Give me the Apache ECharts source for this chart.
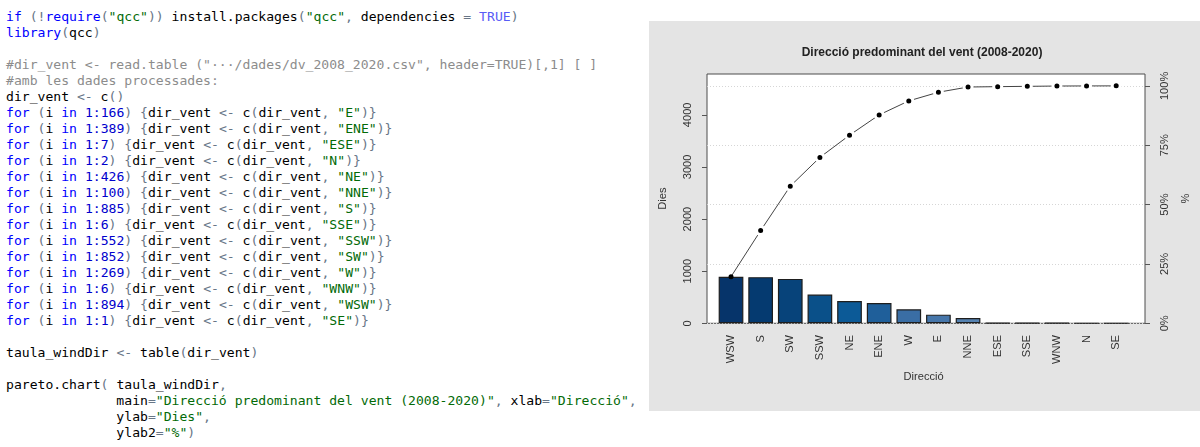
<!DOCTYPE html>
<html>
<head>
<meta charset="utf-8">
<script src="https://cdn.jsdelivr.net/npm/echarts@6/dist/echarts.min.js"></script>
<style>
  html, body { margin: 0; padding: 0; background: #fff; width: 1200px; height: 447px; overflow: hidden; }
  #code {
    position: absolute; left: 6px; top: 9px; margin: 0;
    font-family: "DejaVu Sans Mono", "Liberation Mono", monospace;
    font-size: 13.1px; line-height: 16px; color: #000; white-space: pre; z-index: 1;
  }
  .k { color: #0000ff; }
  .n { color: #0000cd; }
  .s { color: #036a07; }
  .c { color: #8c8c8c; }
  .o { color: #687687; }
  .t { color: #585cf6; }
  #chart { position: absolute; left: 649px; top: 21px; width: 551px; height: 390px; z-index: 2; }
</style>
</head>
<body>
<pre id="code"><span class="k">if</span> <span class="o">(!</span><span class="k">require</span><span class="o">(</span><span class="s">"qcc"</span><span class="o">))</span> install.packages<span class="o">(</span><span class="s">"qcc"</span><span class="o">,</span> dependencies <span class="o">=</span> <span class="t">TRUE</span><span class="o">)</span>
<span class="k">library</span><span class="o">(</span>qcc<span class="o">)</span>

<span class="c">#dir_vent &lt;- read.table ("···/dades/dv_2008_2020.csv", header=TRUE)[,1] [ ]</span>
<span class="c">#amb les dades processades:</span>
dir_vent <span class="o">&lt;-</span> c<span class="o">()</span>
<span class="k">for</span> <span class="o">(</span>i <span class="k">in</span> <span class="n">1:166</span><span class="o">)</span> <span class="o">{</span>dir_vent <span class="o">&lt;-</span> c<span class="o">(</span>dir_vent<span class="o">,</span> <span class="s">"E"</span><span class="o">)}</span>
<span class="k">for</span> <span class="o">(</span>i <span class="k">in</span> <span class="n">1:389</span><span class="o">)</span> <span class="o">{</span>dir_vent <span class="o">&lt;-</span> c<span class="o">(</span>dir_vent<span class="o">,</span> <span class="s">"ENE"</span><span class="o">)}</span>
<span class="k">for</span> <span class="o">(</span>i <span class="k">in</span> <span class="n">1:7</span><span class="o">)</span> <span class="o">{</span>dir_vent <span class="o">&lt;-</span> c<span class="o">(</span>dir_vent<span class="o">,</span> <span class="s">"ESE"</span><span class="o">)}</span>
<span class="k">for</span> <span class="o">(</span>i <span class="k">in</span> <span class="n">1:2</span><span class="o">)</span> <span class="o">{</span>dir_vent <span class="o">&lt;-</span> c<span class="o">(</span>dir_vent<span class="o">,</span> <span class="s">"N"</span><span class="o">)}</span>
<span class="k">for</span> <span class="o">(</span>i <span class="k">in</span> <span class="n">1:426</span><span class="o">)</span> <span class="o">{</span>dir_vent <span class="o">&lt;-</span> c<span class="o">(</span>dir_vent<span class="o">,</span> <span class="s">"NE"</span><span class="o">)}</span>
<span class="k">for</span> <span class="o">(</span>i <span class="k">in</span> <span class="n">1:100</span><span class="o">)</span> <span class="o">{</span>dir_vent <span class="o">&lt;-</span> c<span class="o">(</span>dir_vent<span class="o">,</span> <span class="s">"NNE"</span><span class="o">)}</span>
<span class="k">for</span> <span class="o">(</span>i <span class="k">in</span> <span class="n">1:885</span><span class="o">)</span> <span class="o">{</span>dir_vent <span class="o">&lt;-</span> c<span class="o">(</span>dir_vent<span class="o">,</span> <span class="s">"S"</span><span class="o">)}</span>
<span class="k">for</span> <span class="o">(</span>i <span class="k">in</span> <span class="n">1:6</span><span class="o">)</span> <span class="o">{</span>dir_vent <span class="o">&lt;-</span> c<span class="o">(</span>dir_vent<span class="o">,</span> <span class="s">"SSE"</span><span class="o">)}</span>
<span class="k">for</span> <span class="o">(</span>i <span class="k">in</span> <span class="n">1:552</span><span class="o">)</span> <span class="o">{</span>dir_vent <span class="o">&lt;-</span> c<span class="o">(</span>dir_vent<span class="o">,</span> <span class="s">"SSW"</span><span class="o">)}</span>
<span class="k">for</span> <span class="o">(</span>i <span class="k">in</span> <span class="n">1:852</span><span class="o">)</span> <span class="o">{</span>dir_vent <span class="o">&lt;-</span> c<span class="o">(</span>dir_vent<span class="o">,</span> <span class="s">"SW"</span><span class="o">)}</span>
<span class="k">for</span> <span class="o">(</span>i <span class="k">in</span> <span class="n">1:269</span><span class="o">)</span> <span class="o">{</span>dir_vent <span class="o">&lt;-</span> c<span class="o">(</span>dir_vent<span class="o">,</span> <span class="s">"W"</span><span class="o">)}</span>
<span class="k">for</span> <span class="o">(</span>i <span class="k">in</span> <span class="n">1:6</span><span class="o">)</span> <span class="o">{</span>dir_vent <span class="o">&lt;-</span> c<span class="o">(</span>dir_vent<span class="o">,</span> <span class="s">"WNW"</span><span class="o">)}</span>
<span class="k">for</span> <span class="o">(</span>i <span class="k">in</span> <span class="n">1:894</span><span class="o">)</span> <span class="o">{</span>dir_vent <span class="o">&lt;-</span> c<span class="o">(</span>dir_vent<span class="o">,</span> <span class="s">"WSW"</span><span class="o">)}</span>
<span class="k">for</span> <span class="o">(</span>i <span class="k">in</span> <span class="n">1:1</span><span class="o">)</span> <span class="o">{</span>dir_vent <span class="o">&lt;-</span> c<span class="o">(</span>dir_vent<span class="o">,</span> <span class="s">"SE"</span><span class="o">)}</span>

taula_windDir <span class="o">&lt;-</span> table<span class="o">(</span>dir_vent<span class="o">)</span>

pareto.chart<span class="o">(</span> taula_windDir<span class="o">,</span>
              main<span class="o">=</span><span class="s">"Direcció predominant del vent (2008-2020)"</span><span class="o">,</span> xlab<span class="o">=</span><span class="s">"Direcció"</span><span class="o">,</span>
              ylab<span class="o">=</span><span class="s">"Dies"</span><span class="o">,</span>
              ylab2<span class="o">=</span><span class="s">"%"</span><span class="o">)</span></pre>
<div id="chart"></div>
<script>
// Data (sorted descending as in the Pareto chart)
var categories = ['WSW', 'S', 'SW', 'SSW', 'NE', 'ENE', 'W', 'E', 'NNE', 'ESE', 'SSE', 'WNW', 'N', 'SE'];
var counts = [894, 885, 852, 552, 426, 389, 269, 166, 100, 7, 6, 6, 2, 1];
var barColors = ['#06346a', '#053a70', '#07437a', '#0a5089', '#0c5a97', '#1f5f9a', '#3a6ea5', '#4676aa', '#5582b1', '#6a93ba', '#7ea2c4', '#92b2cf', '#a5c1d9', '#b3cde0'];
var leftTicks = [0, 1000, 2000, 3000, 4000];
var pctTicks = [0, 25, 50, 75, 100];

var total = counts.reduce(function (a, b) { return a + b; }, 0);
var cumulative = [];
counts.reduce(function (acc, v) { acc += v; cumulative.push(acc); return acc; }, 0);
var yMax = total * 1.05;
var pctMax = yMax / total * 100;

var chart = echarts.init(document.getElementById('chart'));
var fontFam = '"Liberation Sans", Arial, sans-serif';
var labelColor = '#333';
var axisColor = '#555';

chart.setOption({
  backgroundColor: '#e4e4e4',
  animation: false,
  title: {
    text: 'Direcció predominant del vent (2008-2020)',
    left: 273, top: 26, padding: 0, textAlign: 'center',
    textStyle: { fontFamily: fontFam, fontSize: 12, fontWeight: 'bold', color: '#222' }
  },
  grid: [
    { left: 53.3, right: 55, top: 53, bottom: 87.7, show: true, backgroundColor: '#fff', borderColor: '#4d4d4d', borderWidth: 1 },
    { left: 67.2, width: 414.8, top: 53, bottom: 87.7 }
  ],
  xAxis: [
    { type: 'value', gridIndex: 0, min: 0, max: 1, show: false },
    {
      type: 'category', gridIndex: 1, data: categories, boundaryGap: true,
      axisLine: { show: false }, axisTick: { show: false },
      axisLabel: { rotate: 90, margin: 11.7, fontFamily: fontFam, fontSize: 11.1, color: labelColor, interval: 0 },
      name: 'Direcció', nameLocation: 'middle', nameGap: 40,
      nameTextStyle: { fontFamily: fontFam, fontSize: 11.1, color: labelColor }
    }
  ],
  yAxis: [
    {
      type: 'value', gridIndex: 0, position: 'left', min: 0, max: yMax, interval: 1000,
      axisLine: { show: false },
      axisTick: { show: true, length: 5, inside: false, customValues: leftTicks, lineStyle: { color: axisColor } },
      axisLabel: { rotate: 90, margin: 14, customValues: leftTicks, formatter: function (v) { return String(v); }, fontFamily: fontFam, fontSize: 11.1, color: labelColor },
      splitLine: { show: false },
      name: 'Dies', nameLocation: 'middle', nameGap: 39,
      nameTextStyle: { fontFamily: fontFam, fontSize: 11.1, color: labelColor }
    },
    {
      type: 'value', gridIndex: 0, position: 'right', min: 0, max: pctMax, interval: 25,
      axisLine: { show: false },
      axisTick: { show: true, length: 5, inside: false, customValues: pctTicks, lineStyle: { color: axisColor } },
      axisLabel: { rotate: 90, margin: 14, customValues: pctTicks, formatter: '{value}%', fontFamily: fontFam, fontSize: 11.1, color: labelColor },
      splitLine: { show: true, lineStyle: { type: [1, 2], color: '#d6d6d6', width: 1 } },
      name: '%', nameLocation: 'middle', nameGap: 35,
      nameTextStyle: { fontFamily: fontFam, fontSize: 11.1, color: labelColor }
    },
    { type: 'value', gridIndex: 1, min: 0, max: yMax, show: false, splitLine: { show: false } }
  ],
  series: [
    {
      type: 'bar', xAxisIndex: 1, yAxisIndex: 2,
      barWidth: 24.7,
      data: counts.map(function (v, i) {
        return { value: v, itemStyle: { color: barColors[i] } };
      }),
      itemStyle: { borderColor: '#1e1e1e', borderWidth: 1.2 },
      z: 2
    },
    {
      type: 'line', xAxisIndex: 1, yAxisIndex: 2,
      data: cumulative.map(function (v, i) {
        return i === 0 ? { value: v, symbolSize: 5, itemStyle: { borderWidth: 0 } } : v;
      }),
      symbol: 'circle', symbolSize: 8,
      itemStyle: { color: '#000', borderColor: '#fff', borderWidth: 3 },
      lineStyle: { color: '#444', width: 1 },
      z: 3
    }
  ]
});
</script>
</body>
</html>
